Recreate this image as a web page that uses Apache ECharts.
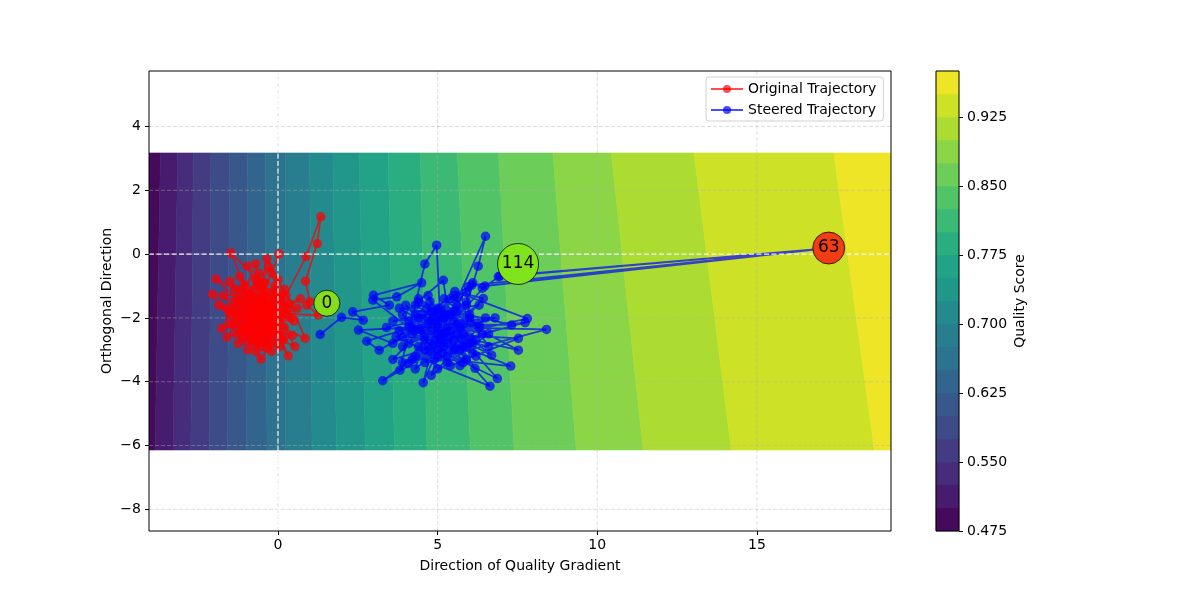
<!DOCTYPE html>
<html>
<head>
<meta charset="utf-8">
<script src="https://cdn.jsdelivr.net/npm/echarts@6/dist/echarts.min.js"></script>
<style>html,body{margin:0;padding:0;background:#fff;}#c{width:1196px;height:598px;}</style>
</head>
<body>
<div id="c"></div>
<script>
// ---------------- data ----------------
const xTicks = [0, 5, 10, 15];
const yTicks = [-8, -6, -4, -2, 0, 2, 4];
const cbTicks = [0, 3, 6, 9, 12, 15, 18];
const cbTickLabels = ['0.475', '0.550', '0.625', '0.700', '0.775', '0.850', '0.925'];
const levelCount = 20;

// contour field extent
const fieldXMin = -4.04, fieldXMax = 19.2;
const fieldYTop = 3.17, fieldYBottom = -6.14;
// band boundary x positions read at the top and bottom edge of the field
const boundaryTop    = [-3.68, -3.14, -2.65, -2.10, -1.51, -0.95, -0.40, 0.23, 0.99, 1.72, 2.54, 3.45, 4.46, 5.62, 6.91, 8.61, 10.44, 13.03, 17.41];
const boundaryBottom = [-3.85, -3.29, -2.73, -2.15, -1.59, -0.98, -0.34, 0.23, 1.07, 1.83, 2.74, 3.65, 4.67, 6.03, 7.40, 9.34, 11.44, 14.20, 18.68];

const originalTrajectory = [
[1.00,-1.49],[0.86,-0.85],[1.23,0.33],[1.34,1.17],[0.88,-0.08],[0.25,-1.30],[-0.35,-0.14],[-0.55,-1.10],[-0.96,-0.38],[-0.40,-1.60],
[-1.20,-1.90],[-0.70,-2.40],[0.10,-2.00],[-0.20,-1.20],[-1.48,0.04],[-0.90,-1.30],[-0.30,-2.30],[-1.00,-2.73],[-0.50,-1.80],[-1.50,-0.85],
[-0.80,-2.10],[0.03,0.00],[-0.20,-0.60],[-0.60,-1.50],[-1.94,-0.78],[-1.30,-1.40],[-0.40,-2.60],[0.30,-1.70],[-0.10,-1.00],[-0.69,-3.06],
[-0.55,-2.00],[-1.76,-2.33],[-1.10,-1.10],[-0.30,-1.80],[0.50,-2.10],[-0.80,-1.60],[-2.05,-1.26],[-1.40,-2.20],[-0.60,-0.60],[-0.10,-2.20],
[0.85,-2.64],[0.20,-1.10],[-0.90,-2.50],[-0.53,-3.29],[-0.20,-2.80],[-1.20,-1.60],[-0.70,-0.30],[-0.40,-2.00],[0.32,-3.19],[0.00,-2.40],
[-0.80,-1.90],[-0.20,-2.40],[-1.10,-1.70],[-0.50,-2.90],[0.10,-1.60],[-0.90,-2.20],[-0.30,-1.50],[-1.30,-2.00],[-0.60,-2.50],[0.00,-2.10],
[-1.00,-1.30],[-0.40,-2.20],[-0.70,-1.60],[0.20,-2.60],[-1.20,-2.40],[-0.10,-1.80],[-0.80,-2.70],[-0.50,-1.40],[-1.40,-1.80],[0.30,-1.90],
[-1.00,-1.90],[-1.60,-1.70],[-0.75,-2.80],[0.10,-1.50],[-0.50,-0.90],[-1.30,-2.50],[-0.25,-2.50],[0.53,-2.90],[-0.10,-1.70],[-0.85,-1.20],
[-1.70,-1.30],[-0.60,-2.60],[0.40,-2.00],[-0.30,-0.40],[-1.10,-2.30],[-0.45,-1.30],[0.15,-2.70],[-0.95,-3.00],[-0.15,-1.40],[-1.50,-1.90],
[-0.60,-1.90],[-0.20,-2.70],[-1.00,-2.30],[-0.40,-1.20],[-0.90,-1.60],[0.00,-2.50],[-0.70,-2.10],[-1.10,-2.60],[-0.30,-2.00],[-0.50,-1.70],
[-0.70,-1.90],[0.00,-0.80],[-0.35,-2.95],[-1.20,-0.70],[-0.60,-1.40],[0.60,-1.70],[-0.80,-2.30],[-1.85,-1.60],[-0.50,-2.40],[0.20,-2.30],
[-1.00,-1.50],[-0.20,-3.05],[-0.65,-1.00],[-1.35,-1.10],[-0.10,-1.95],[0.70,-1.40],[-0.90,-2.00],[-0.40,-0.90],[-1.25,-2.80],[-0.55,-1.65],
[-0.80,-1.30],[-0.10,-2.30],[-1.20,-1.40],[-0.60,-2.80],[0.10,-1.30],[-0.90,-1.90],[-0.40,-2.40],[-1.50,-2.20],[-0.20,-1.70],[-0.70,-2.60],
[0.05,-2.90],[-0.75,-1.45],[-1.60,-2.60],[-0.30,-2.15],[0.35,-1.55],[-1.05,-0.95],[-0.45,-2.70],[-0.85,-1.75],[-0.05,-1.30],[-1.40,-1.60],
[-0.60,-2.20],[0.45,-2.55],[-0.25,-1.60],[-1.15,-2.10],[-0.70,-0.80],[0.15,-1.85],[-0.95,-2.45],[-0.40,-1.85],[1.26,-1.91],[0.90,-1.60]
];

const steeredTrajectory = [
[1.32,-2.52],[1.99,-1.98],[2.67,-2.07],[2.34,-1.81],[3.49,-1.60],[2.99,-1.29],[4.50,-0.90],[3.72,-1.34],[2.97,-1.44],[4.10,-2.30],
[2.52,-2.38],[3.60,-2.80],[4.80,-2.10],[2.78,-2.73],[3.17,-3.01],[4.29,-2.38],[5.20,-1.90],[3.82,-3.64],[4.60,-0.31],[4.97,0.28],
[5.10,-2.50],[4.08,-3.43],[5.50,-2.70],[3.28,-3.97],[4.70,-2.90],[5.60,-1.60],[4.55,-4.03],[5.00,-2.20],[4.66,-1.70],[5.80,-2.90],
[4.76,-1.49],[5.30,-3.20],[3.90,-1.90],[5.18,-0.82],[5.40,-2.40],[6.17,-3.58],[4.90,-2.70],[5.96,-1.02],[4.40,-2.00],[6.69,-3.17],
[5.20,-2.00],[6.87,-3.90],[5.00,-3.00],[6.43,-1.39],[5.54,-1.17],[7.81,-2.02],[5.10,-2.60],[7.29,-3.51],[4.30,-3.20],[6.64,-4.14],
[5.00,-2.30],[3.90,-2.90],[5.60,-1.80],[4.40,-1.50],[6.20,-2.70],[4.10,-2.10],[5.30,-3.40],[6.00,-1.90],[4.60,-2.70],[5.40,-1.40],
[4.20,-3.30],[6.30,-2.20],[5.00,-1.70],[3.80,-2.40],[6.10,-3.10],[5.20,-2.50],[4.00,-1.60],[5.70,-3.50],[4.70,-2.00],[6.40,-2.50],
[5.70,-2.30],[6.27,-0.38],[6.50,0.56],[5.40,-1.90],[7.53,-3.01],[4.80,-2.40],[7.74,-2.15],[5.30,-2.80],[6.00,-2.00],[5.90,-1.20],
[6.10,-0.90],[6.40,-1.07],[6.95,-0.69],[17.25,0.19],[6.48,-1.00],[5.50,-2.10],[6.00,-2.60],[4.90,-1.80],[5.80,-3.40],[4.60,-2.60],
[4.30,-1.90],[5.10,-2.80],[5.90,-1.50],[3.70,-2.60],[5.00,-3.20],[6.50,-2.00],[4.50,-2.40],[5.50,-3.00],[3.90,-3.40],[6.00,-2.80],
[5.20,-1.40],[6.30,-2.30],[5.00,-3.60],[4.40,-2.90],[5.60,-2.20],[7.32,-2.22],[5.10,-1.70],[4.20,-2.50],[5.70,-3.00],[4.90,-3.30],
[8.41,-2.36],[5.30,-2.30],[4.50,-1.90],[6.10,-2.80],[5.00,-2.50],[7.53,-2.64],[5.40,-3.50],[4.70,-2.20],[5.90,-1.60],[3.60,-2.10],
[5.20,-2.00],[4.40,-1.40],[5.80,-2.20],[4.10,-2.80],[6.30,-1.60],[4.80,-1.80],[4.30,-3.60],[5.60,-2.50],[5.90,-3.30],[4.70,-1.30],
[5.20,-2.90],[6.60,-2.50],[4.80,-3.80],[5.50,-1.80],[4.30,-1.60],[5.80,-2.50],[4.95,-2.05],[6.20,-3.20],[4.60,-3.40],[5.35,-2.60],
[3.40,-2.30],[5.30,-1.90],[3.80,-1.70],[5.90,-2.90],[4.60,-3.00],[3.60,-3.30],[5.50,-1.30],[6.60,-2.90],[4.20,-2.30],[5.10,-2.70],
[3.90,-2.60],[5.65,-1.35],[4.85,-2.85],[6.05,-2.15],[5.15,-3.10],[4.45,-2.35],[5.75,-2.65],[5.05,-1.95],[6.80,-2.00],[5.25,-2.45],
[4.75,-3.05],[5.55,-2.95],[6.07,-0.97],[17.25,0.19],[6.90,-0.71]
];

const annotLabels = ['0', '114', '63'];
const annotX = [1.53, 7.52, 17.25];
const annotY = [-1.54, -0.31, 0.19];
const annotSize = [26, 41, 32];
const annotColor = ['#84dc1c', '#7fe41c', '#f23c14'];

// ---------------- helpers ----------------
const VIR = ['#440154','#482475','#414487','#355f8d','#2a788e','#21918c','#22a884','#44bf70','#7ad151','#bddf26','#fde725'];
function hex2rgb(h){return [parseInt(h.slice(1,3),16),parseInt(h.slice(3,5),16),parseInt(h.slice(5,7),16)];}
function viridis(t){
  const p = Math.max(0, Math.min(1, t)) * 10;
  const i = Math.min(9, Math.floor(p)); const f = p - i;
  const a = hex2rgb(VIR[i]), b = hex2rgb(VIR[i+1]);
  return 'rgb(' + a.map((v,k)=>Math.round(v + (b[k]-v)*f)).join(',') + ')';
}
const bandColors = [];
for (let i = 0; i < levelCount; i++) bandColors.push(viridis((i + 0.5) / levelCount));
const bandIdx = bandColors.map((c, i) => [i]);
const minus = v => String(v).replace('-', '\u2212');

const FONT = 'DejaVu Sans';
const FS = 14;
const chart = echarts.init(document.getElementById('c'), null, {renderer: 'canvas'});

const option = {
  animation: false,
  textStyle: {fontFamily: FONT},
  grid: [
    {left: 149, top: 71, width: 742, height: 460},
    {left: 936, top: 71, width: 23, height: 460}
  ],
  xAxis: [
    {type: 'value', gridIndex: 0, min: fieldXMin, max: fieldXMax,
     axisLine: {show: false, onZero: false}, splitLine: {show: false},
     axisTick: {show: true, customValues: xTicks, length: 4, lineStyle: {color: '#000'}},
     axisLabel: {customValues: xTicks, formatter: minus, color: '#000', fontSize: FS, margin: 7, fontFamily: FONT},
     name: 'Direction of Quality Gradient', nameLocation: 'middle', nameGap: 28,
     nameTextStyle: {color: '#000', fontSize: FS, fontFamily: FONT}},
    {type: 'value', gridIndex: 1, min: 0, max: 1, show: false}
  ],
  yAxis: [
    {type: 'value', gridIndex: 0, min: -8.68, max: 5.74,
     axisLine: {show: false, onZero: false}, splitLine: {show: false},
     axisTick: {show: true, customValues: yTicks, length: 4, lineStyle: {color: '#000'}},
     axisLabel: {customValues: yTicks, formatter: minus, color: '#000', fontSize: FS, margin: 8, fontFamily: FONT},
     name: 'Orthogonal Direction', nameLocation: 'middle', nameGap: 35, nameRotate: 90, nameMoveOverlap: false,
     nameTextStyle: {color: '#000', fontSize: FS, fontFamily: FONT}},
    {type: 'value', gridIndex: 1, min: 0, max: levelCount, position: 'right',
     axisLine: {show: false, onZero: false}, splitLine: {show: false},
     axisTick: {show: true, customValues: cbTicks, length: 4, lineStyle: {color: '#000'}},
     axisLabel: {customValues: cbTicks, color: '#000', fontSize: FS, margin: 8, fontFamily: FONT,
                 formatter: v => cbTickLabels[cbTicks.indexOf(Math.round(v))] || ''},
     name: 'Quality Score', nameLocation: 'middle', nameGap: 54, nameRotate: 90,
     nameTextStyle: {color: '#000', fontSize: FS, fontFamily: FONT}}
  ],
  legend: {
    left: 706, top: 77, orient: 'vertical', itemGap: 7, itemWidth: 32, itemHeight: 10,
    padding: [5, 7, 4, 4], borderColor: '#d0d0d0', borderWidth: 1, borderRadius: 3,
    backgroundColor: 'rgba(255,255,255,0.85)',
    textStyle: {fontSize: FS, color: '#000', fontFamily: FONT},
    data: ['Original Trajectory', 'Steered Trajectory']
  },
  graphic: [
    {type: 'rect', shape: {x: 149, y: 71, width: 742, height: 460}, style: {fill: null, stroke: '#000', lineWidth: 1}, z: 100},
    {type: 'rect', shape: {x: 936, y: 71, width: 23, height: 460}, style: {fill: null, stroke: '#000', lineWidth: 1}, z: 100}
  ],
  series: [
    { // filled contour bands
      type: 'custom', xAxisIndex: 0, yAxisIndex: 0, z: 1, silent: true, clip: true,
      data: bandIdx,
      renderItem: function (params, api) {
        const i = api.value(0);
        const lt = i === 0 ? fieldXMin : boundaryTop[i - 1];
        const lb = i === 0 ? fieldXMin : boundaryBottom[i - 1];
        const rt = i === levelCount - 1 ? fieldXMax : boundaryTop[i];
        const rb = i === levelCount - 1 ? fieldXMax : boundaryBottom[i];
        const pts = [api.coord([lt, fieldYTop]), api.coord([rt, fieldYTop]), api.coord([rb, fieldYBottom]), api.coord([lb, fieldYBottom])];
        return {type: 'polygon', shape: {points: pts}, style: {fill: bandColors[i], stroke: bandColors[i], lineWidth: 0.6}};
      }
    },
    { // grid lines
      type: 'custom', xAxisIndex: 0, yAxisIndex: 0, z: 2, silent: true,
      data: xTicks.map(v => [v, 0]).concat(yTicks.map(v => [v, 1])),
      renderItem: function (params, api) {
        const v = api.value(0), isY = api.value(1);
        const cs = params.coordSys;
        let shape;
        if (isY) { const p = api.coord([0, v]); shape = {x1: cs.x, y1: p[1], x2: cs.x + cs.width, y2: p[1]}; }
        else { const p = api.coord([v, 0]); shape = {x1: p[0], y1: cs.y, x2: p[0], y2: cs.y + cs.height}; }
        return {type: 'line', shape: shape, style: {stroke: 'rgba(176,176,176,0.55)', lineWidth: 0.8, lineDash: [4, 2]}};
      }
    },
    {
      name: 'Original Trajectory', type: 'line', xAxisIndex: 0, yAxisIndex: 0, z: 3,
      data: originalTrajectory, symbol: 'circle', symbolSize: 9.5, showSymbol: true,
      itemStyle: {color: 'rgba(255,0,0,0.7)'},
      lineStyle: {color: 'rgba(255,0,0,0.7)', width: 1.8},
      emphasis: {disabled: true}
    },
    {
      name: 'Steered Trajectory', type: 'line', xAxisIndex: 0, yAxisIndex: 0, z: 3,
      data: steeredTrajectory, symbol: 'circle', symbolSize: 9.5, showSymbol: true,
      itemStyle: {color: 'rgba(0,0,255,0.7)'},
      lineStyle: {color: 'rgba(0,0,255,0.7)', width: 1.8},
      emphasis: {disabled: true}
    },
    { // white zero lines
      type: 'custom', xAxisIndex: 0, yAxisIndex: 0, z: 4, silent: true,
      data: [[0, 0], [0, 1]],
      renderItem: function (params, api) {
        const isY = api.value(1); const cs = params.coordSys; const p = api.coord([0, 0]);
        const shape = isY ? {x1: cs.x, y1: p[1], x2: cs.x + cs.width, y2: p[1]} : {x1: p[0], y1: cs.y, x2: p[0], y2: cs.y + cs.height};
        return {type: 'line', shape: shape, style: {stroke: 'rgba(255,255,255,0.9)', lineWidth: 1.2, lineDash: [5, 2.5]}};
      }
    },
    { // annotations
      type: 'scatter', xAxisIndex: 0, yAxisIndex: 0, z: 5, silent: true,
      data: annotLabels.map((l, i) => ({
        value: [annotX[i], annotY[i]], symbolSize: annotSize[i],
        itemStyle: {color: annotColor[i], opacity: 1, borderColor: 'rgba(0,0,0,0.75)', borderWidth: 1},
        label: {show: true, formatter: l, position: 'inside', color: '#000', fontSize: 17, fontFamily: FONT}
      }))
    },
    { // colorbar bands
      type: 'custom', xAxisIndex: 1, yAxisIndex: 1, z: 1, silent: true,
      data: bandIdx,
      renderItem: function (params, api) {
        const i = api.value(0);
        const a = api.coord([0, i + 1]), b = api.coord([1, i]);
        return {type: 'rect', shape: {x: a[0], y: a[1], width: b[0] - a[0], height: b[1] - a[1]},
                style: {fill: bandColors[i], stroke: bandColors[i], lineWidth: 0.5}};
      }
    }
  ]
};
chart.setOption(option);
</script>
</body>
</html>
